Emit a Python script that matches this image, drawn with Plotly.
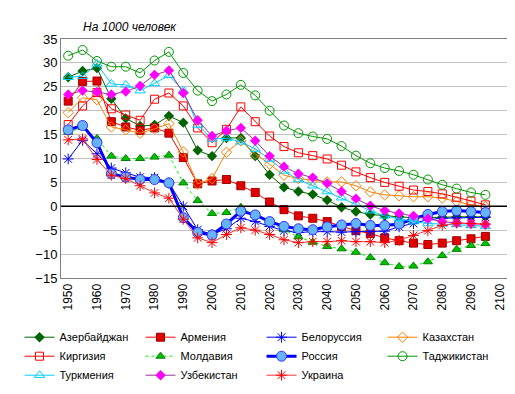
import plotly.graph_objects as go

years = list(range(1950, 2100, 5))
tick_years = list(range(1950, 2101, 10))

azerbaijan = [27.0, 28.3, 28.9, 22.5, 18.4, 16.8, 17.0, 18.9, 17.5, 11.7, 10.5, 14.3, 14.3, 10.5, 6.6,
              4.0, 3.1, 2.5, 1.3, -0.2, -1.1, -1.7, -2.0, -2.2, -2.4, -2.4, -2.3, -2.2, -2.2, -2.2]
armenia = [22.0, 26.1, 26.2, 17.7, 16.6, 15.9, 16.4, 15.3, 10.2, 4.7, 5.3, 5.6, 4.3, 2.9, 0.9,
           -0.7, -2.0, -2.5, -3.2, -4.2, -5.1, -5.7, -6.6, -7.2, -7.7, -8.0, -7.7, -7.2, -6.8, -6.3]
belarus = [9.9, 13.8, 11.0, 8.0, 7.0, 6.1, 6.0, 4.9, 0.0, -4.9, -5.9, -4.7, -2.5, -3.2, -4.2,
           -5.1, -5.5, -5.3, -5.3, -5.4, -5.3, -5.3, -5.2, -4.3, -3.6, -2.8, -2.5, -2.4, -2.3, -2.3]
kazakhstan = [19.6, 22.7, 22.3, 16.6, 16.0, 15.3, 16.2, 17.3, 11.4, 4.7, 5.8, 11.3, 13.7, 11.0, 8.8,
              6.5, 5.8, 5.4, 5.1, 5.1, 4.3, 3.0, 2.4, 2.2, 2.0, 2.0, 1.7, 1.0, 0.3, -0.1]
kyrgyzstan = [17.1, 21.0, 23.8, 20.4, 19.1, 18.0, 22.4, 23.7, 21.0, 16.4, 13.3, 16.1, 20.8, 17.7, 14.7,
              12.5, 11.2, 10.6, 9.9, 8.6, 7.2, 6.0, 5.0, 4.2, 3.4, 3.1, 2.6, 1.9, 1.1, 0.3]
moldova = [15.5, 16.5, 14.2, 10.5, 10.0, 10.0, 10.3, 10.7, 4.9, 1.2, -1.5, -1.3, -0.2, -1.9, -3.4,
           -4.9, -6.4, -7.5, -8.4, -8.9, -9.6, -10.7, -11.8, -12.6, -12.5, -11.6, -10.3, -9.0, -8.2, -7.8]
russia = [16.0, 16.9, 13.3, 6.8, 6.1, 5.6, 5.6, 4.9, -2.4, -5.5, -6.0, -3.7, -1.0, -1.8, -3.2,
          -4.2, -4.7, -4.9, -4.3, -3.9, -3.6, -4.0, -4.0, -3.7, -2.6, -1.7, -1.1, -0.9, -1.1, -1.3]
tajikistan = [31.5, 32.7, 30.4, 29.2, 29.2, 27.9, 30.5, 32.3, 27.9, 24.2, 22.0, 23.4, 25.4, 23.2, 20.0,
              16.9, 15.3, 14.6, 14.1, 12.6, 10.6, 9.0, 8.0, 7.4, 6.6, 5.6, 4.5, 3.7, 2.9, 2.4]
turkmenistan = [27.0, 27.2, 29.8, 25.6, 25.4, 24.2, 25.7, 27.4, 24.2, 17.0, 14.1, 14.2, 13.5, 12.0, 9.9,
                7.4, 5.6, 4.3, 3.1, 1.8, 0.5, -0.9, -2.0, -2.6, -3.2, -3.6, -3.7, -3.8, -4.0, -4.2]
uzbekistan = [23.4, 24.2, 23.9, 23.4, 24.0, 25.2, 27.5, 28.4, 23.7, 18.0, 14.7, 15.8, 16.4, 13.7, 10.5,
              8.3, 6.8, 6.0, 4.8, 3.1, 1.6, 0.1, -0.9, -1.5, -2.0, -2.6, -3.2, -3.5, -3.6, -3.8]
ukraine = [13.9, 14.1, 9.8, 6.5, 5.8, 4.3, 2.8, 1.7, -2.7, -6.6, -7.6, -5.9, -4.5, -5.0, -5.9,
           -7.0, -7.6, -7.4, -7.4, -7.2, -7.4, -7.4, -7.6, -7.1, -6.1, -5.1, -4.0, -3.5, -3.6, -3.7]

series = [
    ("Азербайджан", azerbaijan, dict(color="#006400", width=1), dict(symbol="diamond", size=8, color="#006400")),
    ("Армения", armenia, dict(color="#FF0000", width=1), dict(symbol="square", size=8, color="#E00000", line=dict(color="#A00000", width=1))),
    ("Белоруссия", belarus, dict(color="#0000FF", width=1), dict(symbol="asterisk-open", size=9, color="#0000FF", line=dict(color="#0000FF", width=1))),
    ("Казахстан", kazakhstan, dict(color="#FF8000", width=1), dict(symbol="diamond-open", size=8, color="#FF8000")),
    ("Киргизия", kyrgyzstan, dict(color="#FF0000", width=1), dict(symbol="square-open", size=8, color="#FF0000")),
    ("Молдавия", moldova, dict(color="#00FF00", width=1, dash="dot"), dict(symbol="triangle-up", size=8, color="#00C000", line=dict(color="#008000", width=1))),
    ("Россия", russia, dict(color="#0000FF", width=3), dict(symbol="circle", size=10, color="#66B3FF", line=dict(color="#3333FF", width=1))),
    ("Таджикистан", tajikistan, dict(color="#009900", width=1), dict(symbol="circle-open", size=9, color="#009900")),
    ("Туркмения", turkmenistan, dict(color="#00CCFF", width=1), dict(symbol="triangle-up-open", size=9, color="#00CCFF")),
    ("Узбекистан", uzbekistan, dict(color="#993399", width=1), dict(symbol="diamond", size=8, color="#FF00FF")),
    ("Украина", ukraine, dict(color="#FF3333", width=1), dict(symbol="asterisk-open", size=9, color="#FF0000", line=dict(color="#FF0000", width=1))),
]

fig = go.Figure()
for name, vals, line, marker in series:
    fig.add_trace(go.Scatter(x=years, y=vals, name=name, mode="lines+markers",
                             line=line, marker=marker))

font = dict(family="Arial, Liberation Sans, sans-serif", size=12, color="#000000")

fig.update_layout(
    width=515, height=394,
    margin=dict(l=43, r=16, t=31, b=117),
    paper_bgcolor="white", plot_bgcolor="white",
    font=font,
    showlegend=True,
    legend=dict(orientation="h", x=-0.093, xanchor="left", y=-0.187, yanchor="top",
                entrywidth=76, entrywidthmode="pixels", tracegroupgap=0,
                font=dict(family="Arial, Liberation Sans, sans-serif", size=11)),
    annotations=[dict(text="<i>На 1000 человек</i>", xref="paper", yref="paper",
                      x=0.044, y=1.052, xanchor="left", yanchor="middle", showarrow=False,
                      font=dict(family="Arial, Liberation Sans, sans-serif", size=12))],
    shapes=[dict(type="line", xref="paper", yref="y", x0=0, x1=1, y0=0, y1=0,
                 line=dict(color="black", width=1.5))],
)
fig.update_xaxes(range=[1947.5, 2102.5], tickvals=tick_years, ticktext=[str(y) for y in tick_years],
                 tickangle=-90, showgrid=False, zeroline=False, showline=True, linecolor="#808080",
                 linewidth=1, mirror=True, ticks="", tickfont=dict(size=12))
fig.update_yaxes(range=[-15, 35], dtick=5, showgrid=True, gridcolor="#C0C0C0", gridwidth=1,
                 zeroline=False, showline=True, linecolor="#808080", linewidth=1, mirror=True,
                 ticks="", tickfont=dict(size=13))

fig.write_html("out.html")
